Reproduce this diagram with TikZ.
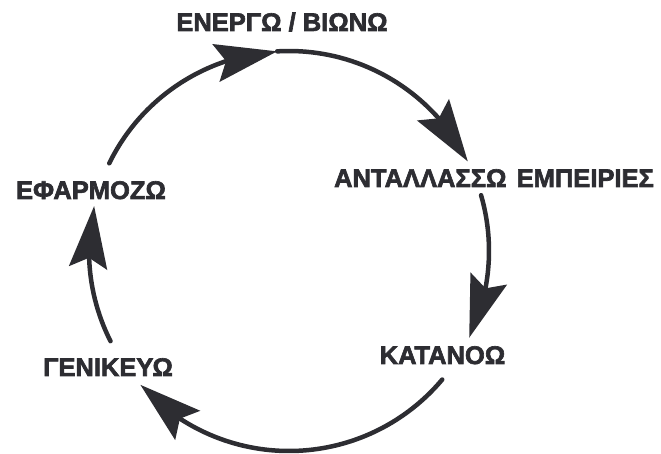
\documentclass[tikz,border=0pt]{standalone}
\usepackage{fontspec}
\setmainfont{Liberation Sans}
\newfontfamily\heavyfont{Liberation Sans}[BoldFeatures={FakeBold=2.5}]
\usetikzlibrary{arrows.meta,bending}
\definecolor{ink}{RGB}{45,45,50}
\begin{document}
\begin{tikzpicture}[x=1pt,y=1pt,
  lbl/.style={font=\heavyfont\bfseries\fontsize{25.5}{30}\selectfont, text=ink, inner sep=0pt, anchor=base},
  cyc/.style={draw=ink, line width=4.5pt, line cap=round, -{Stealth[length=62pt,width=38pt,inset=10pt,flex]}},
]
\useasboundingbox (0,0) rectangle (661,454);
\coordinate (c) at (289,203);
% labels
\node[lbl] (act) at (282,423) {ΕΝΕΡΓΩ / ΒΙΩΝΩ};
\node[lbl] (exc) at (494,267) {ΑΝΤΑΛΛΑΣΣΩ\hspace{0.4em}ΕΜΠΕΙΡΙΕΣ};
\node[lbl] (und) at (442.5,90) {ΚΑΤΑΝΟΩ};
\node[lbl] (gen) at (108,78) {ΓΕΝΙΚΕΥΩ};
\node[lbl] (app) at (91,255) {ΕΦΑΡΜΟΖΩ};
% arc end points on the cycle
\path (c) ++(154:200) coordinate (a1);
\path (c) ++(93.4:200) coordinate (a2);
\path (c) ++(16.2:200) coordinate (a3);
\path (c) ++(-40:200) coordinate (a4);
\path (c) ++(-153.2:200) coordinate (a5);
% connectors
\draw[cyc] (a1) arc[start angle=154, end angle=93.4, radius=200];
\draw[cyc] (a2) arc[start angle=93.4, end angle=26.6, radius=200];
\draw[cyc] (a3) arc[start angle=16.2, end angle=-25.7, radius=200];
\draw[cyc] (a4) arc[start angle=-40, end angle=-138, radius=200];
\draw[cyc] (a5) arc[start angle=-153.2, end angle=-193, radius=200];
\end{tikzpicture}
\end{document}
